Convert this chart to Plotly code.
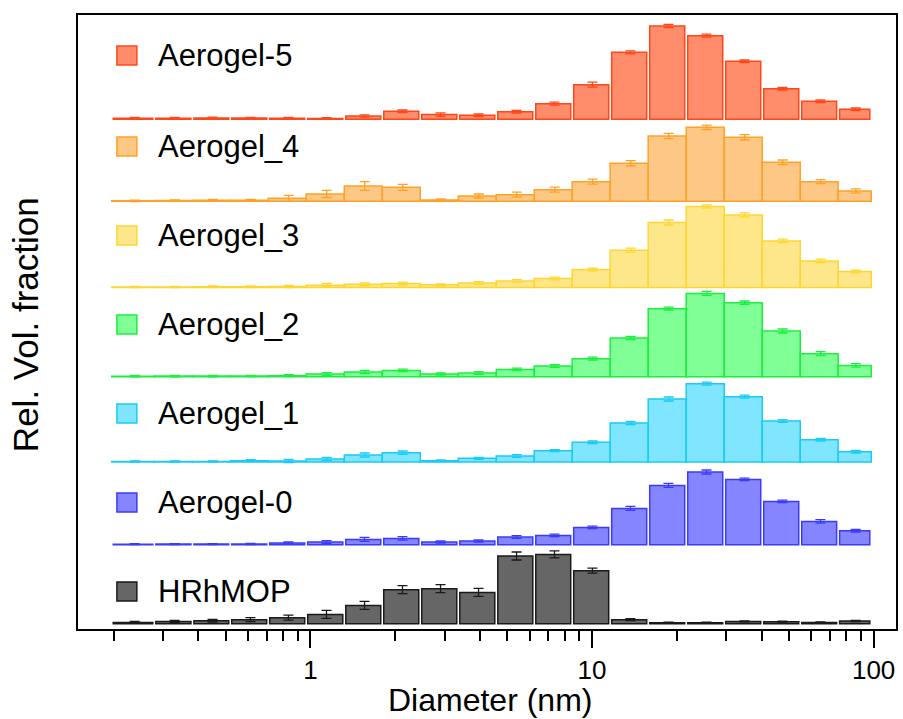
import numpy as np
import plotly.graph_objects as go

# ---------------- data ----------------
bin_edges = [0.197, 0.279, 0.381, 0.519, 0.708, 0.966, 1.319, 1.799, 2.455, 3.350,
             4.571, 6.236, 8.503, 11.60, 15.83, 21.60, 29.47, 40.21, 54.87, 74.80, 98.1]

series_names = ["Aerogel-5", "Aerogel_4", "Aerogel_3", "Aerogel_2", "Aerogel_1", "Aerogel-0", "HRhMOP"]

# vertical offsets of each stacked distribution (arbitrary units)
offsets = [509.7, 427.7, 341.5, 252.3, 167.0, 84.3, 5.3]

a5 = [1.0, 1.0, 1.3, 1.2, 1.0, 0.8, 3.3, 8.0, 4.7, 4.0, 7.6, 15.6, 34.6, 67.0, 93.3, 83.6, 58.0, 30.6, 18.0, 10.0]
a5_err = [0.8, 0.8, 0.8, 0.8, 0.8, 0.8, 1.2, 1.3, 1.8, 1.3, 1.3, 1.5, 2.5, 1.5, 1.5, 1.5, 1.3, 1.3, 1.3, 1.3]

a4 = [0.5, 0.7, 1.0, 1.0, 3.0, 7.3, 15.3, 14.0, 1.3, 5.3, 6.6, 11.6, 19.6, 38.0, 65.3, 74.0, 64.0, 39.0, 19.6, 10.3]
a4_err = [0.7, 0.7, 0.8, 1.0, 3.0, 3.7, 4.3, 3.0, 1.0, 2.0, 2.5, 2.5, 2.5, 2.7, 2.7, 2.2, 2.7, 2.3, 2.0, 2.2]

a3 = [0.5, 0.5, 0.7, 0.7, 1.0, 2.3, 3.3, 4.0, 2.7, 4.6, 6.6, 9.0, 18.0, 37.3, 65.0, 81.0, 72.6, 46.6, 26.6, 16.0]
a3_err = [0.7, 0.7, 0.8, 0.8, 1.0, 1.7, 1.3, 1.3, 1.0, 1.3, 1.3, 1.3, 1.3, 2.0, 2.5, 1.7, 2.0, 1.7, 1.7, 1.3]

a2 = [0.5, 0.6, 0.6, 0.7, 1.0, 2.7, 4.7, 6.3, 2.7, 3.7, 7.3, 10.7, 18.0, 38.7, 68.0, 83.3, 74.0, 45.7, 23.0, 11.3]
a2_err = [0.7, 0.7, 0.7, 0.7, 1.0, 1.3, 1.7, 1.3, 1.0, 1.3, 1.3, 1.3, 1.5, 1.5, 1.5, 2.0, 1.7, 2.0, 2.0, 1.7]

a1 = [0.5, 0.5, 0.5, 1.3, 1.0, 3.0, 7.0, 9.3, 1.3, 3.7, 6.0, 11.3, 19.7, 39.0, 63.0, 78.3, 65.3, 41.0, 22.3, 10.3]
a1_err = [0.5, 0.5, 0.5, 1.0, 1.5, 1.7, 2.0, 1.7, 0.8, 1.0, 1.3, 1.0, 1.3, 1.5, 2.0, 1.5, 1.5, 1.3, 1.3, 1.3]

a0 = [0.5, 0.6, 0.6, 0.7, 1.7, 2.7, 5.3, 6.3, 2.7, 3.7, 7.7, 9.3, 17.3, 36.3, 59.3, 72.7, 65.3, 43.3, 23.3, 14.0]
a0_err = [0.5, 0.5, 0.5, 0.5, 1.0, 1.3, 2.0, 1.7, 1.0, 1.0, 1.3, 1.3, 1.3, 2.0, 2.0, 2.0, 1.3, 1.3, 1.7, 1.3]

hr = [1.3, 2.3, 3.0, 4.0, 6.0, 9.3, 18.3, 34.0, 35.0, 31.3, 67.7, 69.3, 53.0, 4.0, 1.0, 1.0, 2.3, 2.0, 1.3, 2.7]
hr_err = [1.0, 1.0, 1.3, 2.0, 2.5, 4.0, 4.0, 4.0, 4.0, 4.0, 4.0, 3.5, 2.5, 1.0, 0.5, 0.5, 0.5, 0.5, 0.5, 0.7]

values = [a5, a4, a3, a2, a1, a0, hr]
errors = [a5_err, a4_err, a3_err, a2_err, a1_err, a0_err, hr_err]

fill_colors = ["#FF8C6B", "#FDC886", "#FEE78A", "#80FF96", "#80E5FE", "#8585FF", "#666666"]
edge_colors = ["#FF4719", "#FFA126", "#FFD630", "#1BEF3F", "#19CBF5", "#3B3BF7", "#1A1A1A"]
gapped = [True, False, False, False, False, True, True]

tick_vals = [1, 10, 100]
tick_text = ["1", "10", "100"]
minor_vals = [0.2, 0.3, 0.4, 0.5, 0.6, 0.7, 0.8, 0.9, 2, 3, 4, 5, 6, 7, 8, 9,
              20, 30, 40, 50, 60, 70, 80, 90]

# legend label positions (pixel rows of the labels)
label_rows = [55, 146, 235, 324, 413, 502, 591]

# ---------------- figure ----------------
W, H = 903, 719
ml, mr, mt, mb = 78, 5, 15, 90
pw, ph = W - ml - mr, H - mt - mb
FONT = "Liberation Sans, Arial, Helvetica, sans-serif"

edges = np.array(bin_edges)
fig = go.Figure()
for name, vals, errs, fc, ec, gp, off in zip(series_names, values, errors, fill_colors,
                                             edge_colors, gapped, offsets):
    shrink = 10 ** (1.5 / 282.3) if gp else 1.0
    left = edges[:-1] * shrink
    right = edges[1:] / shrink
    centers = np.sqrt(left * right)
    fig.add_trace(go.Bar(
        x=centers, y=vals, base=[off] * len(vals),
        width=right - left, offset=left - centers,
        marker=dict(color=fc, line=dict(color=ec, width=1.5)),
        error_y=dict(type="data", array=errs, visible=True, color=ec,
                     thickness=1.3, width=5),
        name=name, showlegend=False,
    ))

shapes = []
annotations = []
for name, fc, ec, row in zip(series_names, fill_colors, edge_colors, label_rows):
    y0 = (mt + ph - (row + 10)) / ph
    y1 = (mt + ph - (row - 9)) / ph
    shapes.append(dict(type="rect", xref="paper", yref="paper",
                       x0=(117 - ml) / pw, x1=(137 - ml) / pw, y0=y0, y1=y1,
                       fillcolor=fc, line=dict(color=ec, width=1.5)))
    annotations.append(dict(text=name, xref="paper", yref="paper",
                            x=(156 - ml) / pw, y=(mt + ph - row) / ph,
                            xanchor="left", yanchor="middle", showarrow=False,
                            font=dict(family=FONT, size=31, color="black")))

annotations.append(dict(text="Rel. Vol. fraction", xref="paper", yref="paper",
                        x=(25 - ml) / pw, y=(mt + ph - 325) / ph, textangle=-90,
                        xanchor="center", yanchor="middle", showarrow=False,
                        font=dict(family=FONT, size=35, color="black")))
annotations.append(dict(text="Diameter (nm)", xref="paper", yref="paper",
                        x=(491 - ml) / pw, y=(mt + ph - 700) / ph,
                        xanchor="center", yanchor="middle", showarrow=False,
                        font=dict(family=FONT, size=32, color="black")))

fig.update_layout(
    width=W, height=H,
    margin=dict(l=ml, r=mr, t=mt, b=mb),
    paper_bgcolor="white", plot_bgcolor="white",
    barmode="overlay",
    shapes=shapes, annotations=annotations,
    font=dict(family=FONT, color="black"),
)
fig.update_xaxes(
    type="log", range=[-0.8254, 2.0794],
    tickmode="array", tickvals=tick_vals, ticktext=tick_text,
    ticks="outside", ticklen=17, tickwidth=2, tickcolor="black",
    tickfont=dict(family=FONT, size=26, color="black"),
    minor=dict(tickmode="array", tickvals=minor_vals, ticks="outside",
               ticklen=10, tickwidth=2, tickcolor="black", showgrid=False),
    showline=True, linewidth=2, linecolor="black", mirror=True,
    showgrid=False, zeroline=False,
)
fig.update_yaxes(
    range=[0, 614], showticklabels=False, ticks="",
    showline=True, linewidth=2, linecolor="black", mirror=True,
    showgrid=False, zeroline=False,
)

fig.write_html("out.html")
